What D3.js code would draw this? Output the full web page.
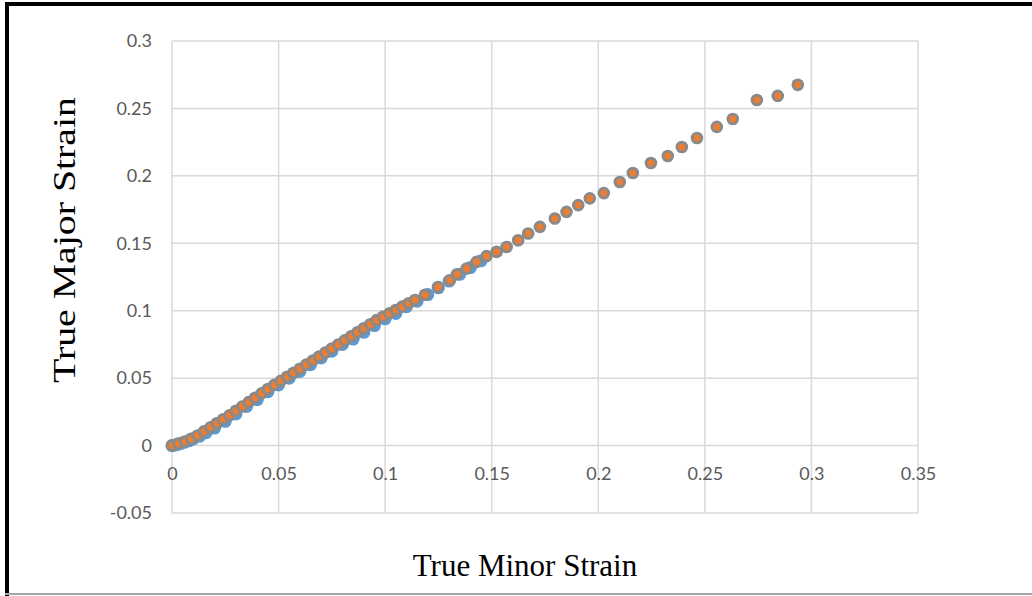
<!DOCTYPE html>
<html><head><meta charset="utf-8">
<script src="https://cdn.jsdelivr.net/npm/d3@7"></script>
<style>body{margin:0;background:#fff}svg{display:block}</style>
</head><body><svg id="c" width="1032" height="596"></svg>
<script>
const xTicks = [0,0.05,0.1,0.15,0.2,0.25,0.3,0.35];
const yTicks = [-0.05,0,0.05,0.1,0.15,0.2,0.25,0.3];
const xTickLabels = ["0","0.05","0.1","0.15","0.2","0.25","0.3","0.35"];
const yTickLabels = ["-0.05","0","0.05","0.1","0.15","0.2","0.25","0.3"];
const xTitle = "True Minor Strain";
const yTitle = "True Major Strain";

// Series 1 (blue), mostly hidden under the others
const blueX = [0,0.001,0.002,0.003,0.004,0.006,0.008,0.010,0.013,0.016,0.020,0.025,0.030,0.035,0.040,0.045,0.050,0.055,0.060,0.065,0.070,0.075,0.080,0.085,0.090,0.095,0.100,0.105,0.110,0.115,0.120,0.125,0.130,0.135,0.140,0.145];
const blueY = [0,0.0003,0.0006,0.001,0.0015,0.0025,0.0035,0.005,0.007,0.0095,0.013,0.018,0.0235,0.029,0.034,0.040,0.045,0.050,0.055,0.060,0.065,0.070,0.075,0.079,0.084,0.089,0.094,0.098,0.103,0.107,0.112,0.117,0.122,0.127,0.132,0.137];

// Series 2 / 3 (grey ring, orange centre)
const seriesX = [0,0.003,0.006,0.009,0.012,0.015,0.018,0.021,0.024,0.027,0.030,0.033,0.036,0.039,0.042,0.045,0.048,0.051,0.054,0.057,0.060,0.063,0.066,0.069,0.072,0.075,0.078,0.081,0.084,0.087,0.090,0.093,0.096,0.099,0.102,0.105,0.108,0.111,0.114,0.1187,0.1248,0.1304,0.1337,0.1382,0.1429,0.1476,0.1523,0.157,0.1624,0.1671,0.1726,0.1796,0.1851,0.1906,0.196,0.2026,0.2101,0.2162,0.2247,0.2326,0.2392,0.2463,0.2556,0.2631,0.2744,0.2842,0.2936];
const seriesY = [0,0.0015,0.003,0.005,0.0075,0.0105,0.0135,0.0165,0.0195,0.0225,0.0258,0.029,0.0322,0.0355,0.0387,0.0419,0.045,0.048,0.051,0.054,0.057,0.060,0.063,0.066,0.069,0.072,0.075,0.078,0.081,0.084,0.087,0.090,0.093,0.0955,0.098,0.1005,0.103,0.1055,0.108,0.1118,0.1176,0.1226,0.127,0.1313,0.1362,0.1405,0.1436,0.1473,0.1523,0.1573,0.1622,0.1684,0.1733,0.1783,0.1833,0.1872,0.1954,0.2021,0.2095,0.2147,0.2214,0.2281,0.2363,0.2422,0.2563,0.2593,0.2675];

const svg = d3.select("#c");
const x = d3.scaleLinear().domain([0,0.35]).range([172,918]);
const y = d3.scaleLinear().domain([-0.05,0.3]).range([513,41]);

// frame
svg.append("rect").attr("x",0).attr("y",0).attr("width",1032).attr("height",596).attr("fill","#fff");
svg.append("line").attr("x1",7).attr("x2",7).attr("y1",2).attr("y2",596).attr("stroke","#000").attr("stroke-width",4);
svg.append("line").attr("x1",5).attr("x2",1032).attr("y1",4).attr("y2",4).attr("stroke","#000").attr("stroke-width",4);
svg.append("line").attr("x1",5).attr("x2",1032).attr("y1",594).attr("y2",594).attr("stroke","#a6a6a6").attr("stroke-width",2);

// gridlines
const grid = svg.append("g").attr("stroke","#d9d9d9").attr("stroke-width",1.5);
grid.selectAll(".h").data(yTicks).enter().append("line")
  .attr("x1",x(0)).attr("x2",x(0.35)).attr("y1",d=>y(d)).attr("y2",d=>y(d));
grid.selectAll(".v").data(xTicks).enter().append("line")
  .attr("y1",y(-0.05)).attr("y2",y(0.3)).attr("x1",d=>x(d)).attr("x2",d=>x(d));

// axes (labels only, via d3 axis)
const yAxis = svg.append("g").attr("transform",`translate(${x(0)},0)`)
  .call(d3.axisLeft(y).tickValues(yTicks).tickSize(0).tickPadding(20).tickFormat((d,i)=>yTickLabels[i]));
const xAxis = svg.append("g").attr("transform",`translate(0,${y(0)})`)
  .call(d3.axisBottom(x).tickValues(xTicks).tickSize(0).tickPadding(22).tickFormat((d,i)=>xTickLabels[i]));
[xAxis,yAxis].forEach(a=>{
  a.select(".domain").remove();
  a.selectAll("text").attr("fill","#595959").style("font-family","Lato, 'Open Sans', sans-serif").style("font-size","18px");
});

// points
const blue = blueX.map((v,i)=>[v,blueY[i]]);
const ser = seriesX.map((v,i)=>[v,seriesY[i]]);
svg.append("g").selectAll("circle").data(blue).enter().append("circle")
  .attr("cx",d=>x(d[0])).attr("cy",d=>y(d[1])).attr("r",6.5).attr("fill","#5b9bd5");
const pts = svg.append("g").selectAll("g").data(ser).enter().append("g")
  .attr("transform",d=>`translate(${x(d[0])},${y(d[1])})`);
pts.append("circle").attr("r",6.3).attr("fill","#8a8a8a");
pts.append("circle").attr("r",3.4).attr("fill","#ed7d31");

// titles
svg.append("text").attr("x",525).attr("y",576).attr("text-anchor","middle")
  .style("font-family","'Liberation Serif', 'Times New Roman', serif").style("font-size","31px").attr("fill","#000").text(xTitle);
svg.append("text").attr("transform","translate(75,240) rotate(-90)").attr("text-anchor","middle")
  .attr("textLength",286).attr("lengthAdjust","spacingAndGlyphs")
  .style("font-family","'Liberation Serif', 'Times New Roman', serif").style("font-size","31px").attr("fill","#000").text(yTitle);
</script></body></html>
